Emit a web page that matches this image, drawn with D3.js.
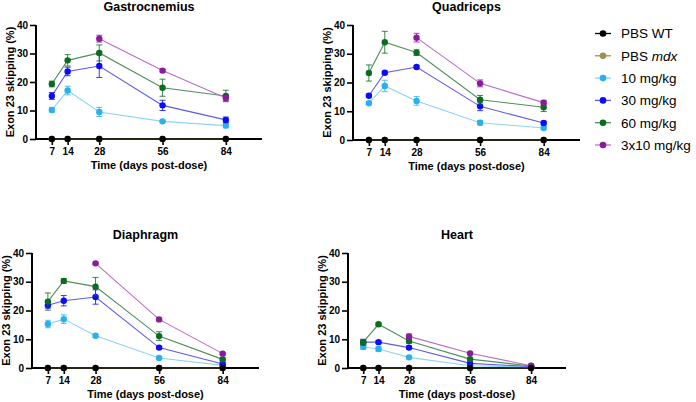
<!DOCTYPE html>
<html><head><meta charset="utf-8">
<script src="https://cdn.jsdelivr.net/npm/d3@7"></script>
<style>body{margin:0;background:#fff}svg{display:block;font-family:"Liberation Sans",Arial,sans-serif}</style>
</head><body><svg id="c" width="696" height="402"></svg>
<script>
const days = [7, 14, 28, 56, 84];
const xTicks = [7, 14, 28, 56, 84];
const yTicks = [0, 10, 20, 30, 40];
const seriesNames = ["PBS WT", "PBS mdx", "10 mg/kg", "30 mg/kg", "60 mg/kg", "3x10 mg/kg"];
const markerColors = ["#000000", "#a08f4f", "#29b0f0", "#0a0aff", "#0b6b1f", "#8c1a9c"];
const lineColors = ["#000000", "#a08f4f", "#8fd3f5", "#5c5ce8", "#4f8f5e", "#bb6cc8"];
const tissues = ["Gastrocnemius", "Quadriceps", "Diaphragm", "Heart"];

// values per tissue: [PBS WT, PBS mdx, 10, 30, 60, 3x10]
const gastroValues = [
  [0, 0, 0, 0, 0],
  [0, 0, 0, 0, 0],
  [10.2, 17.0, 9.5, 6.2, 4.7],
  [15.1, 23.7, 25.6, 11.8, 6.7],
  [19.3, 27.6, 30.2, 18.0, 15.1],
  [null, null, 35.2, 24.0, 14.4]
];
const gastroErrors = [
  [0, 0, 0, 0, 0],
  [0, 0, 0, 0, 0],
  [0.8, 1.5, 1.6, 0.4, 0.8],
  [1.2, 1.5, 4.0, 1.8, 1.0],
  [1.0, 2.0, 2.8, 3.0, 2.0],
  [null, null, 1.2, 0.5, 1.0]
];
const quadValues = [
  [0, 0, 0, 0, 0],
  [0, 0, 0, 0, 0],
  [12.8, 18.8, 13.6, 6.0, 4.2],
  [15.4, 23.4, 25.4, 11.7, 5.9],
  [23.3, 34.0, 30.4, 14.0, 11.4],
  [null, null, 35.6, 19.7, 13.0]
];
const quadErrors = [
  [0, 0, 0, 0, 0],
  [0, 0, 0, 0, 0],
  [0.5, 2.0, 1.5, 0.8, 0.5],
  [0.5, 0.5, 0.5, 1.5, 0.6],
  [2.8, 3.8, 1.0, 1.5, 1.5],
  [null, null, 1.5, 1.2, 0.8]
];
const diaValues = [
  [0, 0, 0, 0, 0],
  [0, 0, 0, 0, 0],
  [15.3, 17.0, 11.2, 3.5, 0.9],
  [21.8, 23.4, 24.7, 7.1, 1.4],
  [23.1, 30.3, 28.3, 11.1, 3.0],
  [null, null, 36.4, 16.9, 5.0]
];
const diaErrors = [
  [0, 0, 0, 0, 0],
  [0, 0, 0, 0, 0],
  [1.3, 1.5, 0.5, 0.5, 0.3],
  [1.0, 1.8, 2.5, 0.5, 0.4],
  [3.0, 0.8, 3.2, 1.5, 0.5],
  [null, null, 0.4, 0.5, 0.4]
];
const heartValues = [
  [0, 0, 0, 0, 0],
  [0, 0, 0, 0, 0],
  [7.3, 6.6, 3.7, 0.8, 0.3],
  [9.0, 9.0, 7.1, 1.6, 0.5],
  [9.0, 15.2, 9.4, 3.1, 0.7],
  [null, null, 11.0, 5.1, 0.8]
];
const heartErrors = [
  [0, 0, 0, 0, 0],
  [0, 0, 0, 0, 0],
  [0.8, 0.8, 0.4, 0.2, 0.2],
  [1.0, 0.5, 0.5, 0.3, 0.2],
  [0.8, 0.5, 0.8, 0.4, 0.2],
  [null, null, 0.8, 0.4, 0.2]
];
const allValues = [gastroValues, quadValues, diaValues, heartValues];
const allErrors = [gastroErrors, quadErrors, diaErrors, heartErrors];

// layout per panel
const panels = [
  {x0: 36, x1: 262, yTop: 25, yBot: 139},
  {x0: 353, x1: 580, yTop: 25, yBot: 140},
  {x0: 32, x1: 259, yTop: 253, yBot: 368},
  {x0: 348, x1: 566, yTop: 253, yBot: 368}
];

const svg = d3.select("#c");

panels.forEach((p, pi) => {
  const x = d3.scaleLinear().domain([0, 100]).range([p.x0, p.x1]);
  const y = d3.scaleLinear().domain([0, 40]).range([p.yBot, p.yTop]);
  const g = svg.append("g");

  // title
  g.append("text").attr("x", (p.x0 + p.x1) / 2).attr("y", p.yTop - 14)
    .attr("text-anchor", "middle").attr("font-weight", "bold").attr("font-size", 12.5)
    .text(tissues[pi]);

  // y axis
  const ya = g.append("g").attr("transform", `translate(${p.x0},0)`)
    .call(d3.axisLeft(y).tickValues(yTicks).tickSize(6).tickPadding(2));
  ya.select(".domain").attr("stroke-width", 2).attr("d", `M0,${p.yTop}V${p.yBot}`);
  ya.selectAll(".tick line").attr("stroke-width", 1.6);
  ya.selectAll(".tick text").attr("font-size", 10).attr("font-weight", "bold")
    .attr("font-family", "Liberation Sans, Arial, sans-serif");

  // x axis
  const xa = g.append("g").attr("transform", `translate(0,${p.yBot})`)
    .call(d3.axisBottom(x).tickValues(xTicks).tickSize(6).tickPadding(3));
  xa.select(".domain").attr("stroke-width", 2).attr("d", `M${p.x0 - 1},0H${p.x1}`);
  xa.selectAll(".tick line").attr("stroke-width", 1.6);
  xa.selectAll(".tick text").attr("font-size", 10).attr("font-weight", "bold")
    .attr("font-family", "Liberation Sans, Arial, sans-serif");

  // axis titles
  g.append("text").attr("x", (p.x0 + p.x1) / 2).attr("y", p.yBot + 30)
    .attr("text-anchor", "middle").attr("font-weight", "bold").attr("font-size", 11)
    .text("Time (days post-dose)");
  g.append("text").attr("transform", `translate(${p.x0 - 22},${(p.yTop + p.yBot) / 2}) rotate(-90)`)
    .attr("text-anchor", "middle").attr("font-weight", "bold").attr("font-size", 11)
    .text("Exon 23 skipping (%)");

  const vals = allValues[pi], errs = allErrors[pi];
  const order = [2, 3, 4, 5, 1, 0];
  order.forEach(si => {
    const pts = days.map((d, i) => ({d, v: vals[si][i], e: errs[si][i]})).filter(o => o.v !== null);
    const line = d3.line().x(o => x(o.d)).y(o => y(o.v));
    g.append("path").attr("d", line(pts)).attr("fill", "none")
      .attr("stroke", lineColors[si]).attr("stroke-width", 1.1);
    pts.forEach(o => {
      if (o.e > 0) {
        const cx = x(o.d);
        g.append("path").attr("d",
          `M${cx},${y(o.v - o.e)}V${y(o.v + o.e)}M${cx - 3},${y(o.v + o.e)}H${cx + 3}M${cx - 3},${y(o.v - o.e)}H${cx + 3}`)
          .attr("stroke", markerColors[si]).attr("stroke-width", 1).attr("fill", "none").attr("opacity", 0.8);
      }
    });
    g.selectAll(null).data(pts).enter().append("circle")
      .attr("cx", o => x(o.d)).attr("cy", o => y(o.v)).attr("r", 3.2)
      .attr("fill", markerColors[si]);
  });
});

// legend
const legend = svg.append("g");
seriesNames.forEach((name, i) => {
  const yy = 33.5 + i * 22.3;
  legend.append("line").attr("x1", 595).attr("x2", 611).attr("y1", yy).attr("y2", yy)
    .attr("stroke", lineColors[i]).attr("stroke-width", 1.3);
  legend.append("circle").attr("cx", 603).attr("cy", yy).attr("r", 3.3).attr("fill", markerColors[i]);
  const t = legend.append("text").attr("x", 621).attr("y", yy + 4.8).attr("font-size", 13.5);
  if (name === "PBS mdx") {
    t.append("tspan").text("PBS ");
    t.append("tspan").attr("font-style", "italic").text("mdx");
  } else {
    t.text(name);
  }
});
</script></body></html>
